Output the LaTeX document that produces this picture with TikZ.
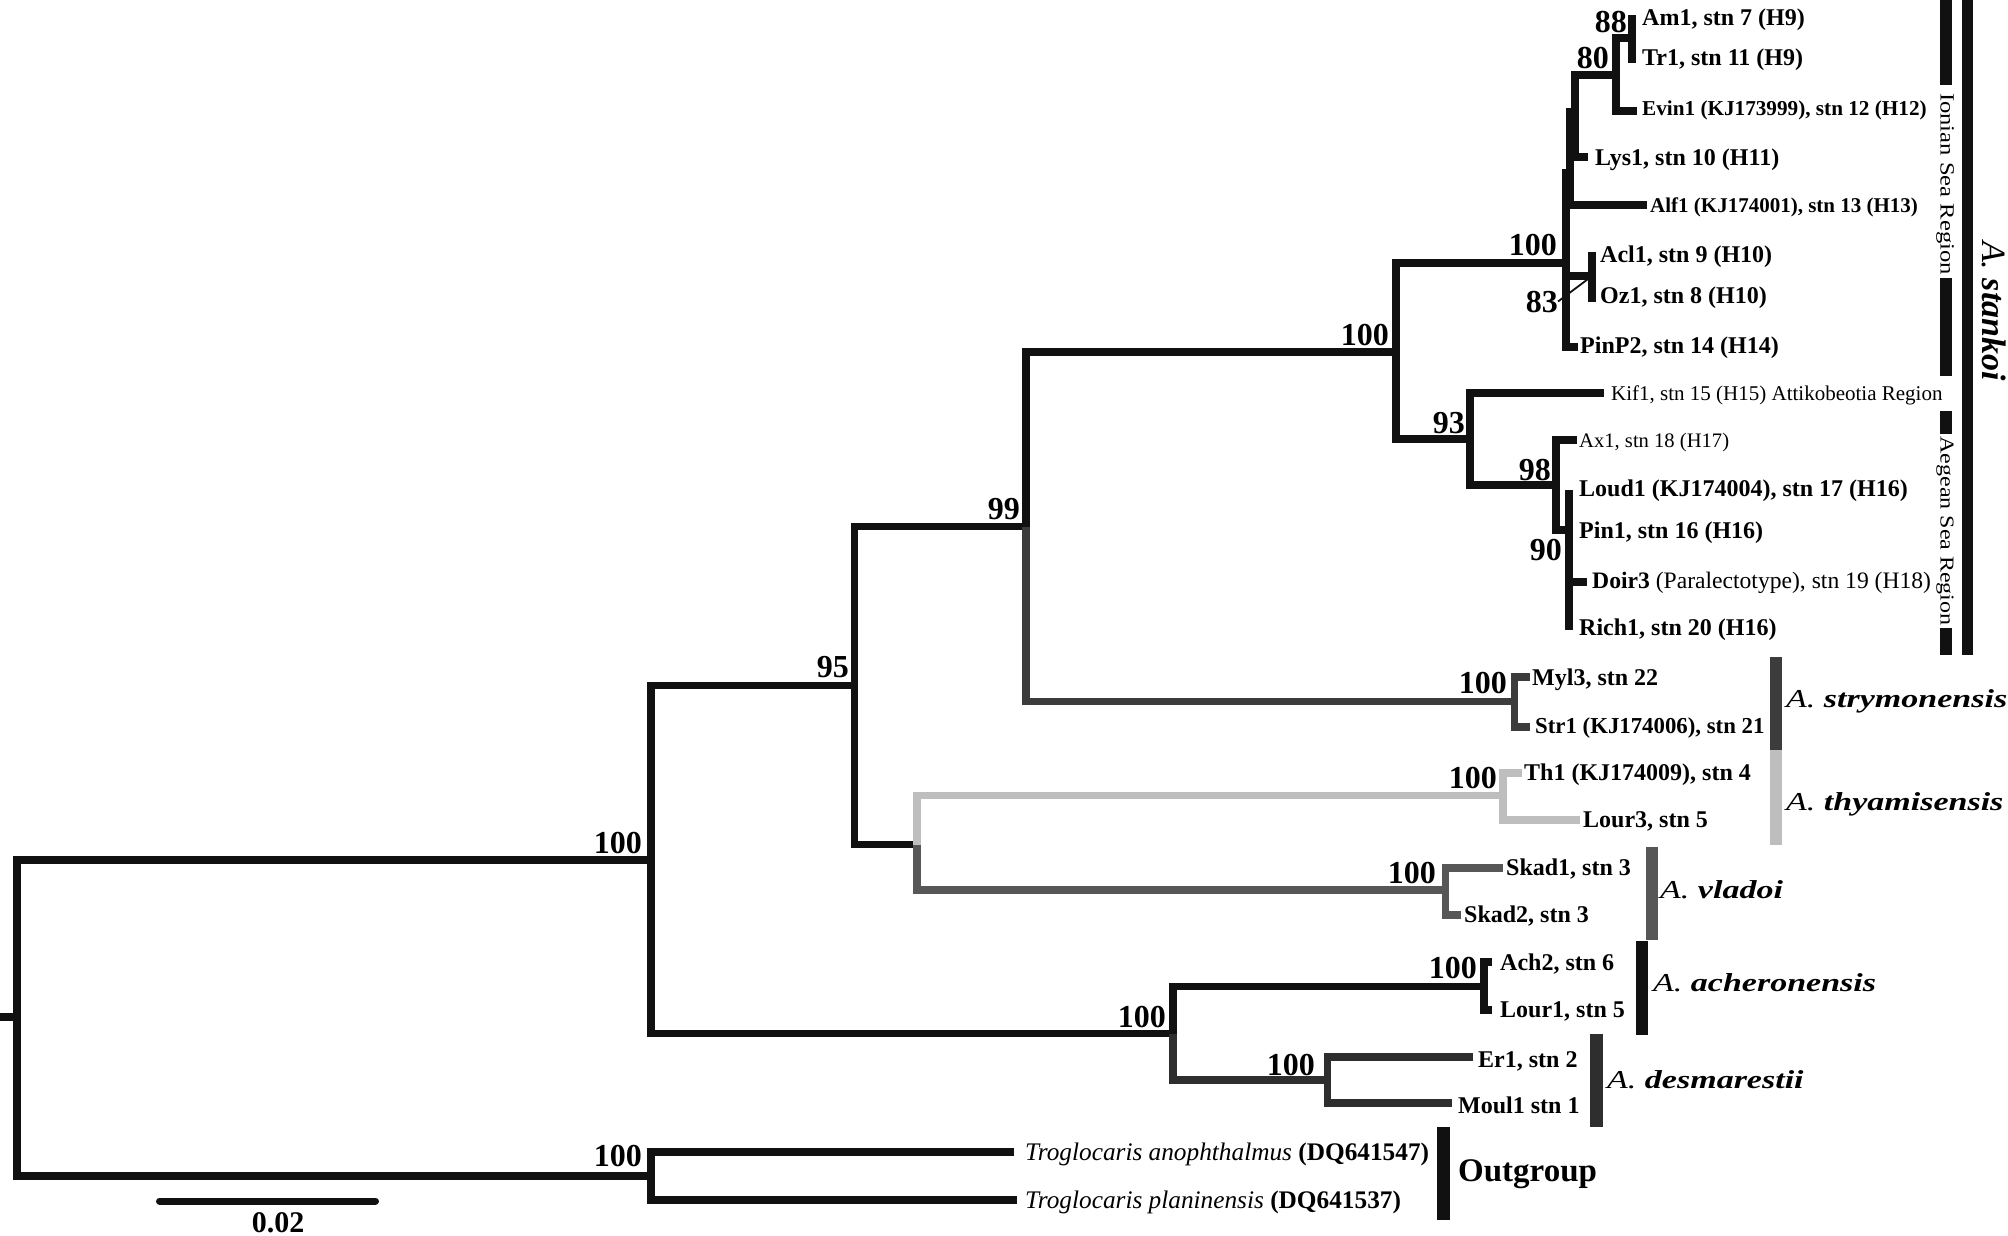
\documentclass[tikz,border=0pt]{standalone}
\usepackage{fontspec}
\setmainfont{Liberation Serif}
\usepackage{graphicx}
\newcommand{\setfs}[1]{\fontsize{#1}{#1}\selectfont}
\definecolor{cblk}{HTML}{111111}
\definecolor{cstry}{HTML}{3C3C3C}
\definecolor{cthy}{HTML}{BEBEBE}
\definecolor{cvla}{HTML}{575757}
\definecolor{cdes}{HTML}{2E2E2E}
\begin{document}
\begin{tikzpicture}[x=1pt,y=-1pt,
  tree/.style={line width=7.5pt, line join=miter, draw=cblk},
  boot/.style={font={\bfseries\setfs{32}}, inner sep=0, anchor=base east},
  tip/.style={font={\bfseries\setfs{24}}, inner sep=0, anchor=base west},
  tipsm/.style={font={\bfseries\setfs{21}}, inner sep=0, anchor=base west},
  tipreg/.style={font={\setfs{21}}, inner sep=0, anchor=base west},
  species/.style={inner sep=0, anchor=base west},
  region/.style={rotate=-90, inner sep=0, anchor=base}]
\useasboundingbox (0,0) rectangle (2008,1235);
\fill[white] (0,0) rectangle (2008,1235);

% internal nodes
\coordinate (R0) at (0,1017);
\coordinate (R) at (17,1017);
\coordinate (A) at (651,860);
\coordinate (P) at (651,1176);
\coordinate (B) at (854.5,685.6);
\coordinate (M) at (1173,1033.7);
\coordinate (C) at (1026,526.7);
\coordinate (L) at (917,844.5);
\coordinate (D) at (1396,352);
\coordinate (I) at (1514.5,701.7);
\coordinate (J) at (1503,795.5);
\coordinate (K) at (1445.7,890);
\coordinate (E) at (1566,263);
\coordinate (F) at (1470,439);
\coordinate (G) at (1556,485);
\coordinate (H) at (1569,530);
\coordinate (X) at (1570,173);
\coordinate (Y) at (1575,112);
\coordinate (Z) at (1616,75);
\coordinate (W) at (1632,38);
\coordinate (AO) at (1592,276);
\coordinate (N) at (1484,986.7);
\coordinate (O) at (1327.5,1080);
% tips
\coordinate (tAm1) at (1636,19);
\coordinate (tTr1) at (1636,59);
\coordinate (tEvin1) at (1637,111);
\coordinate (tLys1) at (1588,157);
\coordinate (tAlf1) at (1647,205);
\coordinate (tAcl1) at (1596,256);
\coordinate (tOz1) at (1596,298);
\coordinate (tPinP2) at (1578,347);
\coordinate (tKif1) at (1604,393);
\coordinate (tAx1) at (1577,440);
\coordinate (tLoud1) at (1573,494);
\coordinate (tDoir3) at (1587,582);
\coordinate (tRich1) at (1573,626);
\coordinate (tMyl3) at (1530,677);
\coordinate (tStr1) at (1530,727);
\coordinate (tTh1) at (1522,773);
\coordinate (tLour3) at (1580,820);
\coordinate (tSkad1) at (1503,868);
\coordinate (tSkad2) at (1461,915);
\coordinate (tAch2) at (1492,962);
\coordinate (tLour1) at (1492,1010);
\coordinate (tEr1) at (1472.6,1057);
\coordinate (tMoul1) at (1452,1103);
\coordinate (tTang) at (1014,1152);
\coordinate (tTpla) at (1017,1200);

% branches
\draw[tree] (R0) -- (R);
\draw[tree] (R) |- (A);
\draw[tree] (R) |- (P);
\draw[tree] (A) |- (B);
\draw[tree] (A) |- (M);
\draw[tree] (B) |- (C);
\draw[tree] (B) |- (L);
\draw[tree] (C) |- (D);
\draw[tree, draw=cstry] (C) |- (I);
\draw[tree, draw=cthy] (L) |- (J);
\draw[tree, draw=cvla] (L) |- (K);
\draw[tree] (D) |- (E);
\draw[tree] (D) |- (F);
\draw[tree] (E) |- (X);
\draw[tree] (E) |- (AO);
\draw[tree] (E) |- (tPinP2);
\draw[tree] (X) |- (Y);
\draw[tree] (X) |- (tAlf1);
\draw[tree] (Y) |- (Z);
\draw[tree] (Y) |- (tLys1);
\draw[tree] (Z) |- (W);
\draw[tree] (Z) |- (tEvin1);
\draw[tree] (W) |- (tAm1);
\draw[tree] (W) |- (tTr1);
\draw[tree] (AO) |- (tAcl1);
\draw[tree] (AO) |- (tOz1);
\draw[tree] (F) |- (tKif1);
\draw[tree] (F) |- (G);
\draw[tree] (G) |- (tAx1);
\draw[tree] (G) |- (H);
\draw[tree] (H) |- (tLoud1);
\draw[tree] (H) |- (tDoir3);
\draw[tree] (H) |- (tRich1);
\draw[tree, draw=cstry] (I) |- (tMyl3);
\draw[tree, draw=cstry] (I) |- (tStr1);
\draw[tree, draw=cthy] (J) |- (tTh1);
\draw[tree, draw=cthy] (J) |- (tLour3);
\draw[tree, draw=cvla] (K) |- (tSkad1);
\draw[tree, draw=cvla] (K) |- (tSkad2);
\draw[tree] (M) |- (N);
\draw[tree, draw=cdes] (M) |- (O);
\draw[tree] (N) |- (tAch2);
\draw[tree] (N) |- (tLour1);
\draw[tree, draw=cdes] (O) |- (tEr1);
\draw[tree, draw=cdes] (O) |- (tMoul1);
\draw[tree] (P) |- (tTang);
\draw[tree] (P) |- (tTpla);

% bootstrap values
\node[boot] (bA) at (642,853) {100};
\node[boot] (bP) at (642,1166) {100};
\node[boot] (bB) at (849,677) {95};
\node[boot] (bC) at (1020,519) {99};
\node[boot] (bD) at (1389,345) {100};
\node[boot] (bE) at (1557,255) {100};
\node[boot] (b83) at (1558,312) {83};
\node[boot] (bZ) at (1609,68) {80};
\node[boot] (bW) at (1627,32) {88};
\node[boot] (bF) at (1465,433) {93};
\node[boot] (bG) at (1551,480) {98};
\node[boot] (bH) at (1562,560) {90};
\node[boot] (bI) at (1507,693) {100};
\node[boot] (bJ) at (1497,788) {100};
\node[boot] (bK) at (1436,883) {100};
\node[boot] (bM) at (1166,1027) {100};
\node[boot] (bN) at (1477,978) {100};
\node[boot] (bO) at (1315,1075) {100};
\draw[line width=1.8pt, draw=cblk] (b83.east) -- (AO);

% tip labels
\node[tip] (lAm1) at (1642,25) {Am1, stn 7 (H9)};
\node[tip] (lTr1) at (1642,65) {Tr1, stn 11 (H9)};
\node[tipsm, font={\bfseries\setfs{21.2}}] (lEvin1) at (1642,115) {Evin1 (KJ173999), stn 12 (H12)};
\node[tip] (lLys1) at (1595,165) {Lys1, stn 10 (H11)};
\node[tipsm] (lAlf1) at (1650,212) {Alf1 (KJ174001), stn 13 (H13)};
\node[tip] (lAcl1) at (1600,262) {Acl1, stn 9 (H10)};
\node[tip] (lOz1) at (1600,303) {Oz1, stn 8 (H10)};
\node[tip] (lPinP2) at (1580,353) {PinP2, stn 14 (H14)};
\node[tipreg] (lKif1) at (1611,400) {Kif1, stn 15 (H15) Attikobeotia Region};
\node[tipreg, font={\setfs{20.6}}] (lAx1) at (1579,447) {Ax1, stn 18 (H17)};
\node[tip] (lLoud1) at (1579,496) {Loud1 (KJ174004), stn 17 (H16)};
\node[tip] (lPin1) at (1579,538) {Pin1, stn 16 (H16)};
\node[tipreg, font={\setfs{23.6}}] (lDoir3) at (1592,588) {\textbf{Doir3} (Paralectotype), stn 19 (H18)};
\node[tip] (lRich1) at (1579,635) {Rich1, stn 20 (H16)};
\node[tip] (lMyl3) at (1532,685) {Myl3, stn 22};
\node[tip, font={\bfseries\setfs{22.8}}] (lStr1) at (1535,733) {Str1 (KJ174006), stn 21};
\node[tip] (lTh1) at (1524,780) {Th1 (KJ174009), stn 4};
\node[tip] (lLour3) at (1583,827) {Lour3, stn 5};
\node[tip] (lSkad1) at (1506,875) {Skad1, stn 3};
\node[tip] (lSkad2) at (1464,922) {Skad2, stn 3};
\node[tip] (lAch2) at (1500,970) {Ach2, stn 6};
\node[tip] (lLour1) at (1500,1017) {Lour1, stn 5};
\node[tip] (lEr1) at (1478,1067) {Er1, stn 2};
\node[tip] (lMoul1) at (1458,1113) {Moul1 stn 1};
\node[tipreg, font={\setfs{25.3}}] (lTang) at (1025,1160) {\textit{Troglocaris anophthalmus} \textbf{(DQ641547)}};
\node[tipreg, font={\setfs{25.3}}] (lTpla) at (1025,1208) {\textit{Troglocaris planinensis} \textbf{(DQ641537)}};

% species bars
\fill[cstry] (1769.5,657) rectangle (1781.5,750);
\fill[cthy] (1769.5,750) rectangle (1781.5,845);
\fill[cvla] (1646,847) rectangle (1658,940);
\fill[cblk] (1636,941) rectangle (1648,1035);
\fill[cdes] (1590,1034) rectangle (1602.5,1127);
\fill[cblk] (1437,1127) rectangle (1450,1220);
\fill[cblk] (1962,0) rectangle (1973,655);
\fill[cblk] (1940,0) rectangle (1952,85);
\fill[cblk] (1940,278) rectangle (1952,376);
\fill[cblk] (1940,411) rectangle (1952,434);
\fill[cblk] (1940,628) rectangle (1952,655);

% species labels
\node[species] (sStry) at (1786,707) {\scalebox{1}[0.76]{\setfs{34}\textit{A.} \textbf{\textit{strymonensis}}}};
\node[species] (sThy) at (1786,810) {\scalebox{1}[0.76]{\setfs{34}\textit{A.} \textbf{\textit{thyamisensis}}}};
\node[species] (sVla) at (1660,898) {\scalebox{1}[0.76]{\setfs{34}\textit{A.} \textbf{\textit{vladoi}}}};
\node[species] (sAch) at (1653,991) {\scalebox{1}[0.76]{\setfs{34}\textit{A.} \textbf{\textit{acheronensis}}}};
\node[species] (sDes) at (1607,1088) {\scalebox{1}[0.76]{\setfs{34}\textit{A.} \textbf{\textit{desmarestii}}}};
\node[species, font={\bfseries\setfs{33}}] (sOut) at (1458,1181) {Outgroup};
\node[region] (sSta) at (1982,311) {\setfs{34}\textit{A.} \textbf{\textit{stankoi}}};
\node[region] (rIon) at (1940.5,184) {\scalebox{1}[0.82]{\setfs{24.6}Ionian Sea Region}};
\node[region] (rAeg) at (1940.5,531) {\scalebox{1}[0.82]{\setfs{24}Aegean Sea Region}};

% scale bar
\coordinate (sb1) at (159.5,1201);
\coordinate (sb2) at (375.5,1201);
\draw[line width=7pt, line cap=round, draw=cblk] (sb1) -- (sb2);
\node[inner sep=0, anchor=base, font={\bfseries\setfs{30}}] (sbl) at (278,1232) {0.02};
\end{tikzpicture}
\end{document}
